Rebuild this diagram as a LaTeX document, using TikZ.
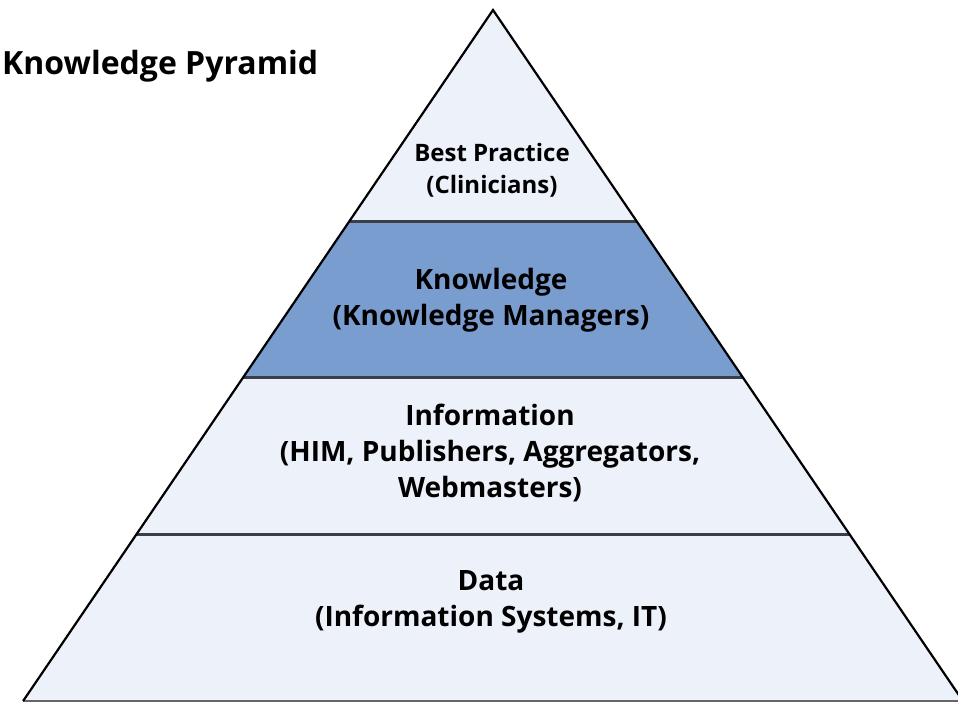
\documentclass[tikz,border=0pt]{standalone}
\usepackage{fontspec}
\setmainfont{Open Sans}
\definecolor{lightband}{HTML}{EDF1FA}
\definecolor{blueband}{HTML}{7A9DCF}
\definecolor{sepline}{HTML}{3A3F47}
\begin{document}
\begin{tikzpicture}[x=1pt,y=-1pt,
  bandtxt/.style={align=center,font=\bfseries\fontsize{28}{36}\selectfont,text=black,inner sep=0pt},
  smalltxt/.style={align=center,font=\bfseries\fontsize{24}{32}\selectfont,text=black,inner sep=0pt},
  sep/.style={draw=sepline,line width=3pt},
  edge/.style={draw=black,line width=2.2pt,line join=miter}]
\useasboundingbox (0,0) rectangle (958,704);
\fill[white] (0,0) rectangle (958,704);
\begin{scope}
\clip (0,0) rectangle (958,704);
\coordinate (A) at (493,10);
\coordinate (L1) at (349.5,221); \coordinate (R1) at (636.5,221);
\coordinate (L2) at (243.4,377); \coordinate (R2) at (742.6,377);
\coordinate (L3) at (136.7,534); \coordinate (R3) at (849.3,534);
\coordinate (L4) at (23.1,701); \coordinate (R4) at (962.9,701);
\fill[lightband] (A) -- (R1) -- (L1) -- cycle;
\fill[blueband] (L1) -- (R1) -- (R2) -- (L2) -- cycle;
\fill[lightband] (L2) -- (R2) -- (R3) -- (L3) -- cycle;
\fill[lightband] (L3) -- (R3) -- (R4) -- (L4) -- cycle;
\draw[sep] (L1) -- (R1);
\draw[sep] (L2) -- (R2);
\draw[sep] (L3) -- (R3);
\draw[draw=gray!80!black,line width=2.5pt] (L4) -- (R4);
\draw[edge] (L4) -- (A) -- (R4);
\end{scope}
\node[smalltxt] (best) at (492,170) {Best Practice\\(Clinicians)};
\node[bandtxt] (know) at (491,300) {Knowledge\\(Knowledge Managers)};
\node[bandtxt] (info) at (490,453) {Information\\(HIM, Publishers, Aggregators,\\Webmasters)};
\node[bandtxt] (data) at (491,602) {Data\\(Information Systems, IT)};
\node[anchor=west,inner sep=0pt,font=\bfseries\fontsize{32}{38}\selectfont] (title) at (2,66) {Knowledge Pyramid};
\end{tikzpicture}
\end{document}
